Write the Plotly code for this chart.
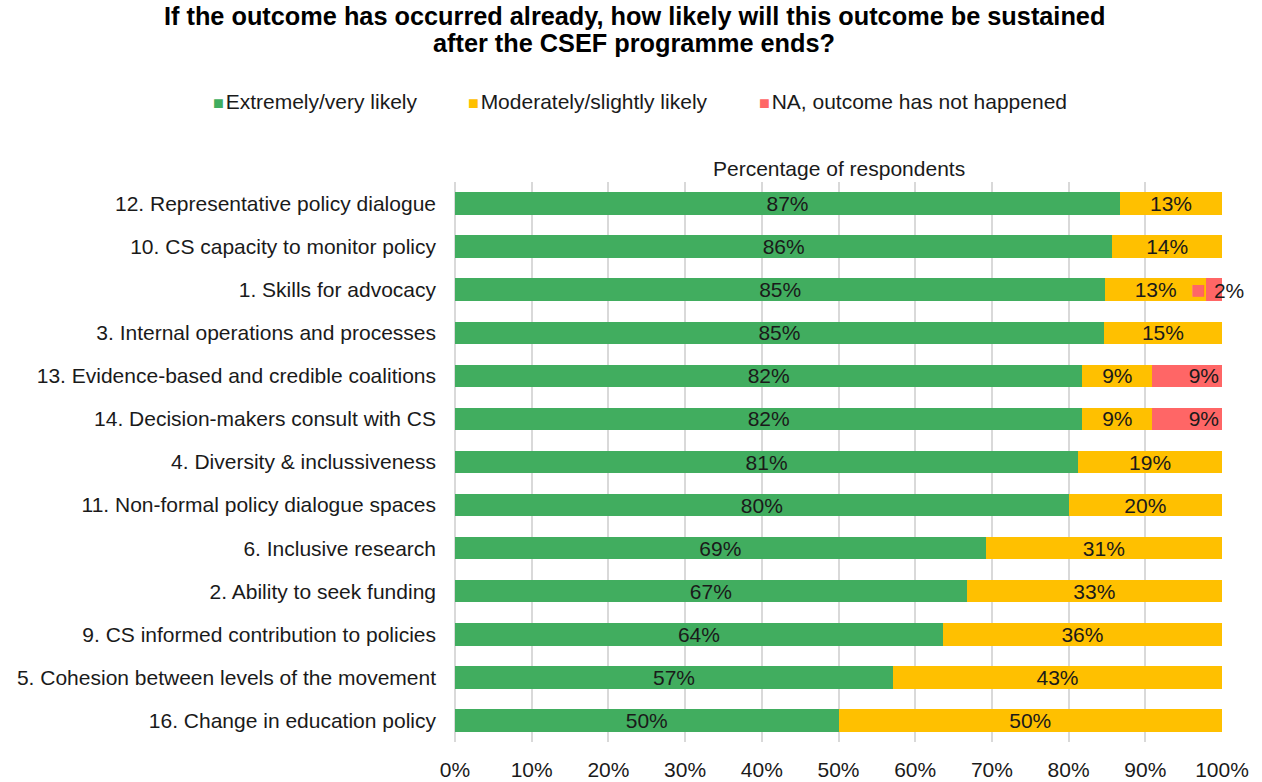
import plotly.graph_objects as go

# Outcomes, listed top to bottom
categories = [
    "12. Representative policy dialogue",
    "10. CS capacity to monitor policy",
    "1. Skills for advocacy",
    "3. Internal operations and processes",
    "13. Evidence-based and credible coalitions",
    "14. Decision-makers consult with CS",
    "4. Diversity & inclussiveness",
    "11. Non-formal policy dialogue spaces",
    "6. Inclusive research",
    "2. Ability to seek funding",
    "9. CS informed contribution to policies",
    "5. Cohesion between levels of the movement",
    "16. Change in education policy",
]

# Percentage of respondents per answer
extremely_very = [86.7, 85.7, 84.8, 84.6, 81.8, 81.8, 81.25, 80.0, 69.2, 66.7, 63.6, 57.1, 50.0]
moderately_slightly = [13.3, 14.3, 13.1, 15.4, 9.1, 9.1, 18.75, 20.0, 30.8, 33.3, 36.4, 42.9, 50.0]
not_happened = [None, None, 2.1, None, 9.1, 9.1, None, None, None, None, None, None, None]

series_names = ["Extremely/very likely", "Moderately/slightly likely", "NA, outcome has not happened"]
colors = ["#41AD5F", "#FFC000", "#FF6666"]

x_ticks = list(range(0, 101, 10))

title_lines = [
    "If the outcome has occurred already, how likely will this outcome be sustained",
    "after the CSEF programme ends?",
]

FONT = "Arial, Liberation Sans, sans-serif"
TEXT_COLOR = "#1a1a1a"
FS = 21
W, H = 1262, 782
M_L, M_R, M_T, M_B = 455, 40, 182, 40
plot_w = W - M_L - M_R
plot_h = H - M_T - M_B


def page_x(px):
    """Convert a page pixel column to paper x coordinate."""
    return (px - M_L) / plot_w


def page_y(py):
    """Convert a page pixel row to paper y coordinate."""
    return (H - M_B - py) / plot_h


fig = go.Figure()

# Green and yellow segments: labels centred
for vals, name, col in zip([extremely_very, moderately_slightly], series_names[:2], colors[:2]):
    fig.add_trace(go.Bar(
        y=categories, x=vals, name=name, orientation="h",
        marker=dict(color=col, line=dict(width=0)),
        texttemplate="%{x:.0f}%", textposition="inside",
        insidetextanchor="middle", constraintext="none",
        textfont=dict(family=FONT, size=FS, color=TEXT_COLOR),
        showlegend=False,
    ))

# Red segment: labels at the inside end, the narrow one handled separately
small_idx = [i for i, v in enumerate(not_happened) if v is not None and v < 5]
red_text = ["" if (v is None or i in small_idx) else f"{v:.0f}%" for i, v in enumerate(not_happened)]
fig.add_trace(go.Bar(
    y=categories, x=not_happened, name=series_names[2], orientation="h",
    marker=dict(color=colors[2], line=dict(width=0)),
    text=red_text, texttemplate="%{text}", textposition="inside",
    insidetextanchor="end", constraintext="none",
    textfont=dict(family=FONT, size=FS, color=TEXT_COLOR),
    showlegend=False,
))

annotations = []

# Label with legend key for the narrow red segment
for i in small_idx:
    total = extremely_very[i] + moderately_slightly[i] + not_happened[i]
    annotations.append(dict(
        x=total, y=categories[i], xref="x", yref="y",
        text=f"<span style='color:{colors[2]};font-size:24px'>■</span>\u2009\u2009{not_happened[i]:.0f}%",
        showarrow=False, xanchor="center", xshift=-5,
        font=dict(family=FONT, size=FS, color=TEXT_COLOR),
    ))

# Legend row
legend_x = [211, 466, 757]
for lx, name, col in zip(legend_x, series_names, colors):
    annotations.append(dict(
        x=page_x(lx), y=page_y(101), xref="paper", yref="paper",
        xanchor="left", yanchor="middle", showarrow=False,
        text=f"<span style='color:{col};font-size:18px'>■</span>\u200a{name}",
        font=dict(family=FONT, size=FS, color=TEXT_COLOR),
    ))

# Axis caption above the bars
annotations.append(dict(
    x=0.5, y=page_y(168), xref="paper", yref="paper",
    xanchor="center", yanchor="middle", showarrow=False,
    text="Percentage of respondents",
    font=dict(family=FONT, size=FS, color=TEXT_COLOR),
))

# Two-line bold title
for line, cy in zip(title_lines, [16, 43]):
    annotations.append(dict(
        x=page_x(W / 2 + 3), y=page_y(cy), xref="paper", yref="paper",
        xanchor="center", yanchor="middle", showarrow=False,
        text=f"<b>{line}</b>",
        font=dict(family=FONT, size=25.3, color="#000000"),
    ))

fig.update_layout(
    width=W, height=H,
    margin=dict(l=M_L, r=M_R, t=M_T, b=M_B, autoexpand=False),
    barmode="stack", bargap=0.48,
    plot_bgcolor="white", paper_bgcolor="white",
    font=dict(family=FONT, size=FS, color=TEXT_COLOR),
    annotations=annotations,
)

fig.update_xaxes(
    range=[0, 100], tickvals=x_ticks, ticktext=[f"{t}%" for t in x_ticks],
    showgrid=True, gridcolor="#D9D9D9", gridwidth=1.5,
    zeroline=True, zerolinecolor="#D9D9D9", zerolinewidth=1.5,
    showline=False, ticks="", ticklabelstandoff=13, automargin=False,
    tickfont=dict(family=FONT, size=FS, color=TEXT_COLOR),
    fixedrange=True,
)
fig.update_yaxes(
    autorange="reversed", categoryorder="array", categoryarray=categories,
    showgrid=False, showline=False, ticks="", ticklabelstandoff=18, automargin=False,
    tickfont=dict(family=FONT, size=FS, color=TEXT_COLOR),
    fixedrange=True,
)

fig.write_html("out.html")
